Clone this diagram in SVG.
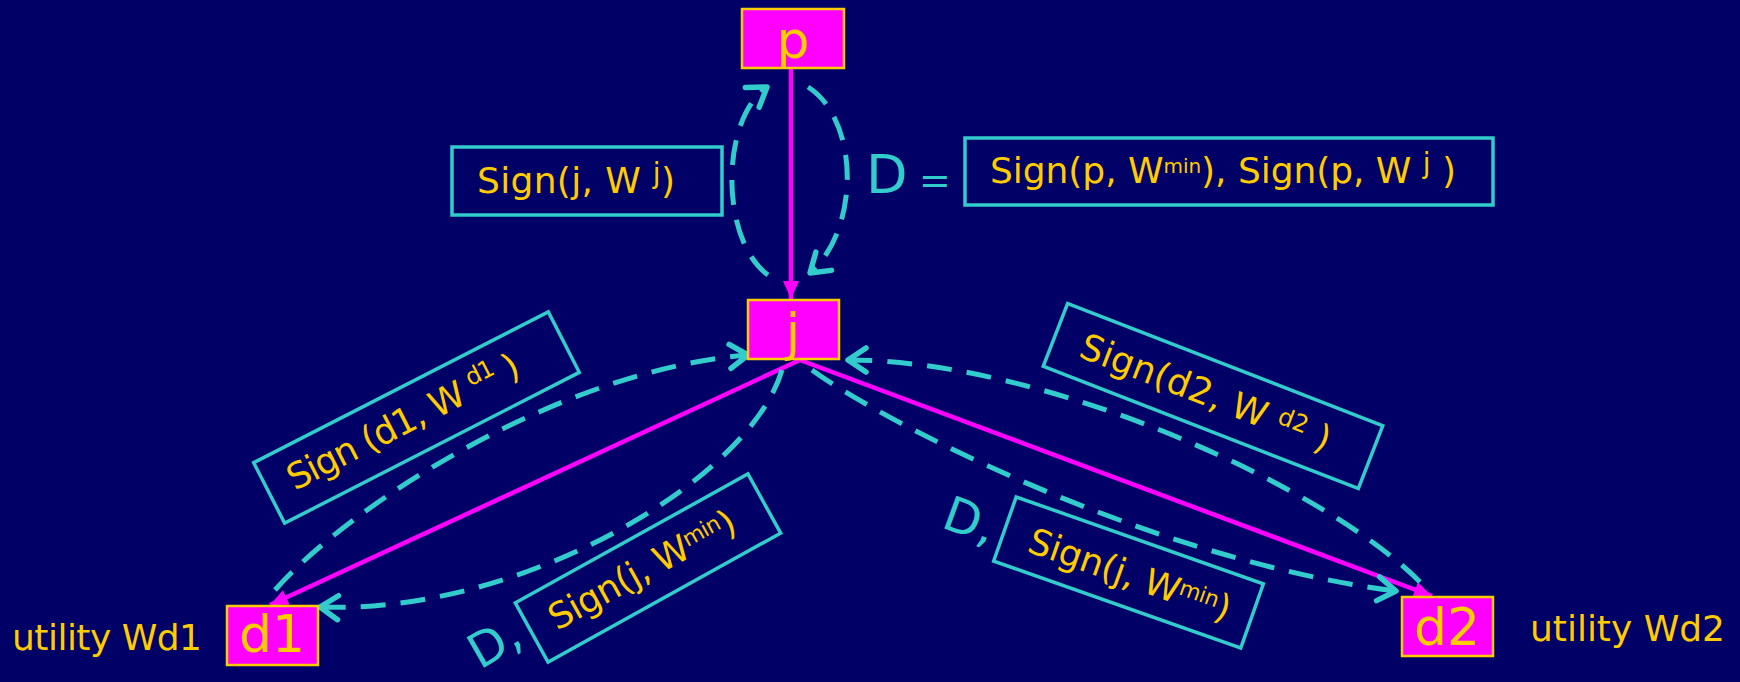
<svg xmlns="http://www.w3.org/2000/svg" width="1740" height="682" viewBox="0 0 1740 682">
<style>
.node rect{fill:#FF00FF;stroke:#FFCC00;stroke-width:2.5}
.nt{fill:#FFCC00;font-family:"DejaVu Sans",sans-serif;font-size:52px;text-anchor:middle}
.lbl{fill:#FFCC00;font-family:"DejaVu Sans",sans-serif;font-size:36px}
.cy{fill:#33CCCC;font-family:"DejaVu Sans",sans-serif}
.box{fill:none;stroke:#33CCCC;stroke-width:3.5}
.dash{fill:none;stroke:#33CCCC;stroke-width:5;stroke-dasharray:25 15}
.mag{fill:none;stroke:#FF00FF;stroke-width:4.5}
</style>
<defs>
<marker id="magArrow" markerUnits="userSpaceOnUse" markerWidth="18" markerHeight="18" viewBox="0 0 18 18" refX="18" refY="9" orient="auto">
<path d="M0,1 L18,9 L0,17 Z" fill="#FF00FF"/>
</marker>
<marker id="cyArrow" markerUnits="userSpaceOnUse" markerWidth="34" markerHeight="34" viewBox="-3 -3 34 34" refX="25" refY="14" orient="auto">
<path d="M7,2 L25,14 L7,26" fill="none" stroke="#33CCCC" stroke-width="5.5" stroke-linecap="round" stroke-linejoin="round"/>
</marker>
</defs>
<rect x="0" y="0" width="1740" height="682" fill="#000066"/>

<g id="connectors">
<line class="mag" x1="791" y1="68" x2="791" y2="299" marker-end="url(#magArrow)"/>
<line class="mag" x1="800" y1="360" x2="270" y2="605" marker-end="url(#magArrow)"/>
<line class="mag" x1="800" y1="360" x2="1432" y2="596" marker-end="url(#magArrow)"/>
<path class="dash" d="M768,275 C720,240 720,120 767,87" marker-end="url(#cyArrow)"/>
<path class="dash" d="M808,87 C860,120 860,230 810,273" marker-end="url(#cyArrow)"/>
<path class="dash" d="M275,590 C350,505 560,370 748,355" marker-end="url(#cyArrow)"/>
<path class="dash" d="M782,370 C750,480 520,615 320,607" marker-end="url(#cyArrow)"/>
<path class="dash" d="M1420,582 C1330,490 1050,360 848,360" marker-end="url(#cyArrow)"/>
<path class="dash" d="M812,370 C880,420 1150,560 1396,591" marker-end="url(#cyArrow)"/>
</g>

<g id="node-p" class="node"><rect x="742" y="9" width="102" height="59"/><text class="nt" x="793" y="58">p</text></g>
<g id="node-j" class="node"><rect x="748" y="300" width="91" height="59"/><text class="nt" x="793" y="350">j</text></g>
<g id="node-d1" class="node"><rect x="227" y="606" width="91" height="59"/><text class="nt" x="272" y="652">d1</text></g>
<g id="node-d2" class="node"><rect x="1402" y="597" width="91" height="59"/><text class="nt" x="1447" y="645">d2</text></g>

<g id="label-signj">
<rect class="box" x="452" y="147" width="270" height="68"/>
<text class="lbl" x="477" y="193" textLength="198">Sign(j, W <tspan dy="-10" font-size="28">j</tspan><tspan dy="10">)</tspan></text>
</g>

<g id="label-D">
<text class="cy" x="866" y="193" font-size="54">D<tspan x="919" font-size="38">=</tspan></text>
<rect class="box" x="965" y="138" width="528" height="67"/>
<text class="lbl" x="990" y="183" textLength="466">Sign(p, W<tspan dy="-10" font-size="20">min</tspan><tspan dy="10">),  Sign(p, W </tspan><tspan dy="-10" font-size="28">j</tspan><tspan dy="10"> )</tspan></text>
</g>

<g id="label-d1" transform="translate(416.5,417.5) rotate(-27.1)">
<rect class="box" x="-165.5" y="-34" width="331" height="68"/>
<text class="lbl" x="-142" y="10" textLength="256">Sign (d1, W <tspan dy="-13" font-size="24">d1</tspan><tspan dy="13"> )</tspan></text>
</g>

<g id="label-jmin1" transform="translate(648,568) rotate(-29)">
<rect class="box" x="-133" y="-33.8" width="266" height="67.6"/>
<text class="lbl" x="-110" y="11" textLength="208">Sign(j, W<tspan dy="-10" font-size="22">min</tspan><tspan dy="10">)</tspan></text>
</g>

<g id="label-d2" transform="translate(1213,396) rotate(21.2)">
<rect class="box" x="-169" y="-33.7" width="338" height="67.4"/>
<text class="lbl" x="-141" y="12" textLength="266">Sign(d2, W <tspan dy="-10" font-size="24">d2</tspan><tspan dy="10"> )</tspan></text>
</g>

<g id="label-jmin2" transform="translate(1128.5,572.5) rotate(19.4)">
<rect class="box" x="-131" y="-34" width="262" height="68"/>
<text class="lbl" x="-104" y="14" textLength="212">Sign(j, W<tspan dy="-10" font-size="22">min</tspan><tspan dy="10">)</tspan></text>
</g>

<text class="cy" font-size="48" transform="translate(480,670) rotate(-30)">D,</text>
<text class="cy" font-size="48" transform="translate(940,527) rotate(20)">D,</text>

<text class="lbl" x="12" y="650" font-size="30" textLength="190">utility Wd1</text>
<text class="lbl" x="1530" y="641" font-size="30" textLength="195">utility Wd2</text>
</svg>
